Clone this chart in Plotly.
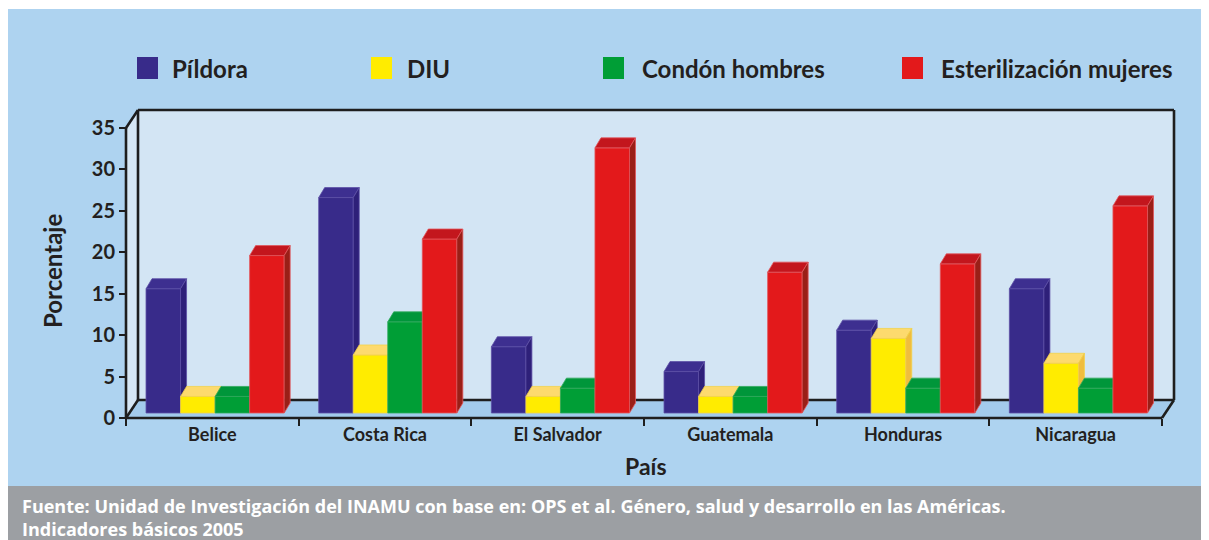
import plotly.graph_objects as go

# ---------------- data ----------------
categories = ["Belice", "Costa Rica", "El Salvador", "Guatemala", "Honduras", "Nicaragua"]
series_names = ["Píldora", "DIU", "Condón hombres", "Esterilización mujeres"]
pildora = [15, 26, 8, 5, 10, 15]
diu = [2, 7, 2, 2, 9, 6]
condon = [2, 11, 3, 2, 3, 3]
esterilizacion = [19, 21, 32, 17, 18, 25]
y_ticks = [0, 5, 10, 15, 20, 25, 30, 35]

values = [pildora, diu, condon, esterilizacion]

# ---------------- styles ----------------
front_colors = ["#382B8A", "#FFEC00", "#009E36", "#E3191B"]
top_colors = ["#3D2F90", "#FDDA6E", "#00963A", "#C3161D"]
side_colors = ["#2E2079", "#F0BD3E", "#007F2E", "#9A1F17"]
edge_colors = ["#5D4FA6", "#F3D24A", "#2FA95A", "#E2565A"]
TXT = "#231F20"
LINE = "#1E1E1E"
FONT = "Lato"

# ---------------- geometry (page pixel layout) ----------------
PAGE_OFF = 8                            # browser body margin
FIG_W, FIG_H = 1201, 532
L, R, T, B = 108, 1200, 108, 450        # plot area in page pixels
PW, PH = R - L, B - T
AX_X0_PX, AX_Y0_PX = 126, 418           # front-left corner of the 3D box
PXX = (1162 - 126) / 6.0                # pixels per category
PXY = (418 - 128) / 35.0                # pixels per percent

xr = [-0.5 - (AX_X0_PX - L) / PXX, -0.5 + (R - AX_X0_PX) / PXX]
yr = [-(B - AX_Y0_PX) / PXY, (AX_Y0_PX - T) / PXY]


def pxx(px):
    return (px - L) / PW


def pxy(py):
    return (B - py) / PH


# 3D offsets
WDX, WDY = 12 / PXX, 18 / PXY          # back wall depth
BDX, BDY = 6 / PXX, 10 / PXY           # bar depth
BASE = 5 / PXY                         # bars stand slightly behind the front edge
BAR_W = 0.2
GROUP_START = -0.384
n_cat = len(categories)
YMAX = y_ticks[-1]

fig = go.Figure()

# bars as 3D prisms: front, top and side faces, drawn series by series
for s, (name, vals) in enumerate(zip(series_names, values)):
    fx, fy, tx, ty, sx, sy = [], [], [], [], [], []
    for i, v in enumerate(vals):
        x0 = i + GROUP_START + s * BAR_W
        x1 = x0 + BAR_W
        y0 = BASE
        y1 = BASE + v
        fx += [x0, x1, x1, x0, x0, None]
        fy += [y0, y0, y1, y1, y0, None]
        tx += [x0, x1, x1 + BDX, x0 + BDX, x0, None]
        ty += [y1, y1, y1 + BDY, y1 + BDY, y1, None]
        sx += [x1, x1 + BDX, x1 + BDX, x1, x1, None]
        sy += [y0, y0 + BDY, y1 + BDY, y1, y0, None]
    for xs, ys, col in [(fx, fy, front_colors[s]),
                        (tx, ty, top_colors[s]),
                        (sx, sy, side_colors[s])]:
        fig.add_trace(go.Scatter(
            x=xs, y=ys, mode="lines", fill="toself", fillcolor=col,
            line=dict(color=edge_colors[s], width=0.8),
            name=name, showlegend=False, hoverinfo="skip"))

shapes = []
# backgrounds
shapes.append(dict(type="rect", xref="paper", yref="paper", layer="below",
                   x0=pxx(PAGE_OFF), x1=pxx(PAGE_OFF + FIG_W), y0=pxy(486), y1=pxy(PAGE_OFF + FIG_H),
                   fillcolor="#9C9FA3", line=dict(width=0)))
shapes.append(dict(type="rect", xref="paper", yref="paper", layer="below",
                   x0=pxx(PAGE_OFF), x1=pxx(PAGE_OFF + FIG_W), y0=pxy(PAGE_OFF), y1=pxy(9),
                   fillcolor="white", line=dict(width=0)))

xa, xb = -0.5, n_cat - 0.5
# back wall, left wall, floor
shapes.append(dict(type="rect", xref="x", yref="y", layer="below",
                   x0=xa + WDX, x1=xb + WDX, y0=WDY, y1=YMAX + WDY,
                   fillcolor="#D3E5F4", line=dict(width=0)))
shapes.append(dict(type="path", xref="x", yref="y", layer="below",
                   path=f"M{xa},{0} L{xa + WDX},{WDY} L{xa + WDX},{YMAX + WDY} L{xa},{YMAX} Z",
                   fillcolor="#D6E7F5", line=dict(width=0)))
shapes.append(dict(type="path", xref="x", yref="y", layer="below",
                   path=f"M{xa},{0} L{xb},{0} L{xb + WDX},{WDY} L{xa + WDX},{WDY} Z",
                   fillcolor="#A3CBEC", line=dict(width=0)))
# frame lines
lw = 2.6
seg = [
    (xa + WDX, WDY, xa + WDX, YMAX + WDY),
    (xa + WDX, YMAX + WDY, xb + WDX, YMAX + WDY),
    (xb + WDX, WDY, xb + WDX, YMAX + WDY),
    (xa + WDX, WDY, xb + WDX, WDY),
    (xa, YMAX, xa + WDX, YMAX + WDY),
    (xa, 0, xa + WDX, WDY),
    (xb, 0, xb + WDX, WDY),
    (xa, 0, xa, YMAX),
    (xa, 0, xb, 0),
]
for (a, b, c, d) in seg:
    shapes.append(dict(type="line", xref="x", yref="y", layer="below",
                       x0=a, y0=b, x1=c, y1=d, line=dict(color=LINE, width=lw)))

# legend squares
leg_sq = [137, 371, 603, 902]
for s, x0 in enumerate(leg_sq):
    shapes.append(dict(type="rect", xref="paper", yref="paper", layer="above",
                       x0=pxx(x0), x1=pxx(x0 + 21), y0=pxy(79), y1=pxy(57),
                       fillcolor=front_colors[s], line=dict(width=0)))

annotations = []
leg_tx = [170, 405, 640, 939]
for s, x0 in enumerate(leg_tx):
    annotations.append(dict(text=series_names[s], xref="paper", yref="paper",
                            x=pxx(x0), y=pxy(68), xanchor="left", yanchor="middle",
                            showarrow=False,
                            font=dict(family=FONT, size=24, color=TXT, weight="bold")))

annotations.append(dict(text="Fuente: Unidad de Investigación del INAMU con base en: OPS et al. Género, salud y desarrollo en las Américas.<br>Indicadores básicos 2005",
                        xref="paper", yref="paper", x=pxx(20), y=pxy(517),
                        xanchor="left", yanchor="middle", align="left", showarrow=False,
                        font=dict(family="Open Sans", size=18, color="white", weight="bold")))
annotations.append(dict(text="Porcentaje", xref="paper", yref="paper",
                        x=pxx(52), y=pxy(271), textangle=-90,
                        xanchor="center", yanchor="middle", showarrow=False,
                        font=dict(family=FONT, size=24, color=TXT, weight="bold")))
annotations.append(dict(text="País", xref="paper", yref="paper",
                        x=pxx(646), y=pxy(466),
                        xanchor="center", yanchor="middle", showarrow=False,
                        font=dict(family=FONT, size=23, color=TXT, weight="bold")))

fig.update_layout(
    width=FIG_W, height=FIG_H, autosize=False,
    margin=dict(l=L - PAGE_OFF, r=PAGE_OFF + FIG_W - R, t=T - PAGE_OFF,
                b=PAGE_OFF + FIG_H - B, pad=0),
    paper_bgcolor="#AED3F0", plot_bgcolor="rgba(0,0,0,0)",
    showlegend=False,
    shapes=shapes, annotations=annotations,
    xaxis=dict(range=xr, anchor="free", position=pxy(AX_Y0_PX),
               tickmode="array", tickvals=list(range(n_cat)), ticktext=categories,
               ticks="", showgrid=False, zeroline=False, showline=False,
               ticklabelstandoff=4,
               tickfont=dict(family=FONT, size=18, color=TXT, weight="bold"),
               minor=dict(tickmode="array", tickvals=[k - 0.5 for k in range(n_cat + 1)],
                          ticks="outside", ticklen=7, tickwidth=2.4, tickcolor=LINE,
                          showgrid=False),
               fixedrange=True),
    yaxis=dict(range=yr, anchor="free", position=pxx(AX_X0_PX),
               tickmode="array", tickvals=y_ticks,
               ticks="outside", ticklen=7, tickwidth=2.4, tickcolor=LINE,
               showgrid=False, zeroline=False, showline=False,
               tickfont=dict(family=FONT, size=20, color=TXT, weight="bold"),
               fixedrange=True),
)

fig.write_html("out.html")
